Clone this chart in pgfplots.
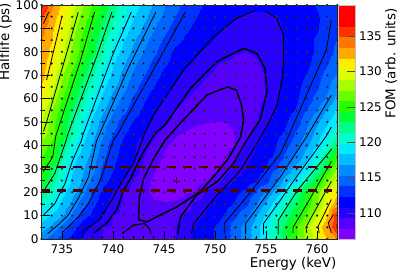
\documentclass[border=0pt]{standalone}
\usepackage{pgfplots}
\usepackage{pgfplotstable}
\usepackage{fontspec}
\setmainfont{DejaVu Sans}
\pgfplotsset{compat=1.18}
\pgfplotstableread[row sep=\\]{
E T Z\\
733 0 116\\734 0 114.5\\735 0 113\\736 0 111.8\\737 0 110.7\\738 0 109.6\\739 0 109.1\\740 0 108.7\\741 0 108.2\\742 0 107.8\\743 0 107.8\\744 0 108.4\\745 0 108.8\\746 0 109.2\\747 0 110\\748 0 111.2\\749 0 111.9\\750 0 112.4\\751 0 113.1\\752 0 114.6\\753 0 116\\754 0 117.7\\755 0 119.6\\756 0 121.6\\757 0 123.6\\758 0 125.7\\759 0 128\\760 0 129.5\\761 0 132\\762 0 133.5\\
733 5 117.6\\734 5 116.4\\735 5 114.8\\736 5 112.9\\737 5 111.5\\738 5 110.5\\739 5 109.3\\740 5 109\\741 5 108.6\\742 5 108.2\\743 5 108.2\\744 5 108.3\\745 5 108.8\\746 5 109.2\\747 5 110\\748 5 111\\749 5 111.8\\750 5 112.4\\751 5 113.1\\752 5 114.6\\753 5 116\\754 5 117.7\\755 5 119.5\\756 5 121.4\\757 5 123.5\\758 5 125.8\\759 5 128.3\\760 5 130.8\\761 5 133.3\\762 5 137\\
733 10 119.3\\734 10 118\\735 10 117\\736 10 115.1\\737 10 112.9\\738 10 111.8\\739 10 110.9\\740 10 109.3\\741 10 109\\742 10 108.5\\743 10 108.2\\744 10 108.1\\745 10 108.3\\746 10 108.9\\747 10 109.6\\748 10 110.3\\749 10 111\\750 10 111.7\\751 10 112.5\\752 10 113.6\\753 10 115\\754 10 116.8\\755 10 118.8\\756 10 120.5\\757 10 122.2\\758 10 124.2\\759 10 126.5\\760 10 129\\761 10 131.8\\762 10 136.5\\
733 15 120.4\\734 15 119.5\\735 15 117.9\\736 15 116.4\\737 15 114.4\\738 15 112.6\\739 15 111.4\\740 15 109.9\\741 15 109.1\\742 15 108.5\\743 15 108.1\\744 15 107.95\\745 15 107.9\\746 15 108\\747 15 108.3\\748 15 109.7\\749 15 110.4\\750 15 111.1\\751 15 111.8\\752 15 112.5\\753 15 113.5\\754 15 115.3\\755 15 117.2\\756 15 119.2\\757 15 121.2\\758 15 123.1\\759 15 125\\760 15 127.3\\761 15 130.3\\762 15 133\\
733 20 122.4\\734 20 120.6\\735 20 118.9\\736 20 117.4\\737 20 116\\738 20 113.4\\739 20 111.9\\740 20 110.8\\741 20 109.3\\742 20 108.6\\743 20 108\\744 20 107.6\\745 20 107.3\\746 20 107.3\\747 20 107.5\\748 20 107.9\\749 20 109.4\\750 20 110.4\\751 20 111.4\\752 20 112\\753 20 112.7\\754 20 114\\755 20 115.7\\756 20 117.4\\757 20 119.3\\758 20 122\\759 20 124.6\\760 20 126.8\\761 20 129.3\\762 20 131.5\\
733 25 124.3\\734 25 122\\735 25 119.9\\736 25 118.1\\737 25 116.7\\738 25 114.9\\739 25 112.8\\740 25 111.8\\741 25 110.7\\742 25 109.1\\743 25 108.1\\744 25 107.6\\745 25 107.2\\746 25 106.9\\747 25 106.8\\748 25 107\\749 25 107.7\\750 25 108.6\\751 25 110\\752 25 111.1\\753 25 111.6\\754 25 112.3\\755 25 113.2\\756 25 115.4\\757 25 117.7\\758 25 119.2\\759 25 121.5\\760 25 124.2\\761 25 127\\762 25 129.8\\
733 30 125.6\\734 30 123\\735 30 120.5\\736 30 118.5\\737 30 117.1\\738 30 115.6\\739 30 113.4\\740 30 112.4\\741 30 111.5\\742 30 110.2\\743 30 108.7\\744 30 107.9\\745 30 107.4\\746 30 107\\747 30 106.8\\748 30 106.7\\749 30 106.9\\750 30 107.6\\751 30 108.8\\752 30 110\\753 30 111\\754 30 111.7\\755 30 112.4\\756 30 114\\757 30 115.8\\758 30 117.5\\759 30 119.2\\760 30 121.4\\761 30 124.9\\762 30 127.5\\
733 35 126\\734 35 125\\735 35 121.6\\736 35 119\\737 35 117.6\\738 35 116.2\\739 35 114.1\\740 35 112.6\\741 35 111.9\\742 35 111\\743 35 109.3\\744 35 108.3\\745 35 107.7\\746 35 107.2\\747 35 106.9\\748 35 106.7\\749 35 106.6\\750 35 106.7\\751 35 107.6\\752 35 109\\753 35 110.4\\754 35 111.2\\755 35 111.9\\756 35 112.6\\757 35 114.3\\758 35 116\\759 35 117.8\\760 35 120\\761 35 122.5\\762 35 125.6\\
733 40 126.5\\734 40 125.4\\735 40 122.6\\736 40 120.3\\737 40 118.5\\738 40 116.6\\739 40 114.7\\740 40 112.9\\741 40 112\\742 40 111.2\\743 40 109.8\\744 40 108.9\\745 40 108\\746 40 107.5\\747 40 107.1\\748 40 106.9\\749 40 106.8\\750 40 106.9\\751 40 107.2\\752 40 107.9\\753 40 109.7\\754 40 110.8\\755 40 111.6\\756 40 112.3\\757 40 113.4\\758 40 114.9\\759 40 116.6\\760 40 118.3\\761 40 120.4\\762 40 122.8\\
733 45 128.3\\734 45 126.4\\735 45 124\\736 45 121.3\\737 45 119.2\\738 45 117.3\\739 45 115.5\\740 45 113.8\\741 45 112.5\\742 45 111.7\\743 45 110.9\\744 45 109.6\\745 45 108.7\\746 45 108\\747 45 107.7\\748 45 107.4\\749 45 107.2\\750 45 107.1\\751 45 107.2\\752 45 107.8\\753 45 108.8\\754 45 110\\755 45 111.4\\756 45 112\\757 45 112.6\\758 45 114.2\\759 45 115.8\\760 45 117.5\\761 45 119.2\\762 45 121\\
733 50 129.2\\734 50 126.6\\735 50 124.1\\736 50 121.8\\737 50 119.8\\738 50 117.9\\739 50 116\\740 50 114.6\\741 50 113.1\\742 50 112.2\\743 50 111.4\\744 50 110.5\\745 50 109.6\\746 50 108.9\\747 50 108.3\\748 50 108\\749 50 107.9\\750 50 107.8\\751 50 107.8\\752 50 108\\753 50 108.6\\754 50 109.2\\755 50 110.5\\756 50 111.4\\757 50 112.2\\758 50 113.2\\759 50 115\\760 50 116.6\\761 50 118.1\\762 50 119.6\\
733 55 129.6\\734 55 127.3\\735 55 125\\736 55 122.7\\737 55 120.9\\738 55 118.8\\739 55 117.1\\740 55 115.5\\741 55 114.3\\742 55 113\\743 55 112\\744 55 111.1\\745 55 110.3\\746 55 109.4\\747 55 108.8\\748 55 108.4\\749 55 108.2\\750 55 108.1\\751 55 108.1\\752 55 108.2\\753 55 108.6\\754 55 109\\755 55 109.8\\756 55 111\\757 55 111.8\\758 55 112.5\\759 55 114\\760 55 115.4\\761 55 117\\762 55 118.6\\
733 60 131\\734 60 128.3\\735 60 125.9\\736 60 123.7\\737 60 121.6\\738 60 119.6\\739 60 117.8\\740 60 116.2\\741 60 114.9\\742 60 113.6\\743 60 112.5\\744 60 111.6\\745 60 110.8\\746 60 110\\747 60 109.4\\748 60 108.9\\749 60 108.6\\750 60 108.4\\751 60 108.3\\752 60 108.4\\753 60 108.7\\754 60 109\\755 60 109.4\\756 60 110.6\\757 60 111.5\\758 60 112.2\\759 60 113\\760 60 114.4\\761 60 115.6\\762 60 117.2\\
733 65 131.8\\734 65 129.3\\735 65 126.9\\736 65 124.6\\737 65 122.4\\738 65 120.5\\739 65 118.7\\740 65 117.1\\741 65 115.9\\742 65 114.4\\743 65 113.1\\744 65 112.3\\745 65 111.5\\746 65 110.7\\747 65 110\\748 65 109.4\\749 65 109\\750 65 108.8\\751 65 108.6\\752 65 108.5\\753 65 108.6\\754 65 108.9\\755 65 109.4\\756 65 110.4\\757 65 111.6\\758 65 112.1\\759 65 112.7\\760 65 113.6\\761 65 115\\762 65 116.4\\
733 70 132.7\\734 70 130\\735 70 127.6\\736 70 125.4\\737 70 123.4\\738 70 121.4\\739 70 119.4\\740 70 117.9\\741 70 116.4\\742 70 115.1\\743 70 113.9\\744 70 112.8\\745 70 112\\746 70 111.3\\747 70 110.6\\748 70 109.9\\749 70 109.4\\750 70 109.1\\751 70 108.9\\752 70 108.8\\753 70 108.8\\754 70 109\\755 70 109.4\\756 70 110.3\\757 70 111.3\\758 70 111.9\\759 70 112.4\\760 70 113.2\\761 70 114.4\\762 70 115.5\\
733 75 133\\734 75 130.8\\735 75 128.4\\736 75 126.4\\737 75 124.3\\738 75 122\\739 75 120.1\\740 75 118.4\\741 75 117\\742 75 115.7\\743 75 114.5\\744 75 113.3\\745 75 112.5\\746 75 111.9\\747 75 111.1\\748 75 110.6\\749 75 110\\750 75 109.4\\751 75 109.1\\752 75 109\\753 75 109\\754 75 109.2\\755 75 109.6\\756 75 110.3\\757 75 111\\758 75 111.6\\759 75 112.1\\760 75 112.7\\761 75 113.7\\762 75 114.8\\
733 80 133.3\\734 80 131.3\\735 80 129.3\\736 80 127.1\\737 80 125.2\\738 80 123.4\\739 80 121.2\\740 80 119.2\\741 80 117.8\\742 80 116.4\\743 80 115.2\\744 80 114.1\\745 80 112.9\\746 80 112.1\\747 80 111.7\\748 80 111.1\\749 80 110.6\\750 80 110.2\\751 80 109.8\\752 80 109.4\\753 80 109.3\\754 80 109.4\\755 80 109.8\\756 80 110.3\\757 80 111\\758 80 111.6\\759 80 112\\760 80 112.5\\761 80 113.2\\762 80 114.2\\
733 85 133.5\\734 85 131.9\\735 85 129.7\\736 85 127.6\\737 85 125.4\\738 85 123.6\\739 85 121.8\\740 85 120.1\\741 85 118.5\\742 85 117.1\\743 85 115.8\\744 85 114.7\\745 85 113.6\\746 85 112.7\\747 85 112.2\\748 85 111.7\\749 85 111.2\\750 85 110.7\\751 85 110.3\\752 85 110\\753 85 109.8\\754 85 109.8\\755 85 110\\756 85 110.4\\757 85 111\\758 85 111.6\\759 85 112\\760 85 112.5\\761 85 113.1\\762 85 113.9\\
733 90 134\\734 90 132.2\\735 90 130.4\\736 90 128.2\\737 90 126.2\\738 90 124.3\\739 90 122.5\\740 90 120.9\\741 90 119.3\\742 90 117.9\\743 90 116.5\\744 90 115.4\\745 90 114.3\\746 90 113.3\\747 90 112.6\\748 90 112.1\\749 90 111.6\\750 90 111.2\\751 90 110.8\\752 90 110.4\\753 90 110.2\\754 90 110.1\\755 90 110.2\\756 90 110.5\\757 90 111\\758 90 111.4\\759 90 111.8\\760 90 112.2\\761 90 112.8\\762 90 113.5\\
733 95 135.3\\734 95 132.6\\735 95 131\\736 95 128.9\\737 95 126.9\\738 95 125\\739 95 123.2\\740 95 121.5\\741 95 120\\742 95 118.5\\743 95 117.2\\744 95 116\\745 95 115\\746 95 113.9\\747 95 112.9\\748 95 112.4\\749 95 111.9\\750 95 111.5\\751 95 111.2\\752 95 110.9\\753 95 110.6\\754 95 110.5\\755 95 110.5\\756 95 110.7\\757 95 111.2\\758 95 111.6\\759 95 111.9\\760 95 112.2\\761 95 112.7\\762 95 113.3\\
733 100 137\\734 100 133.6\\735 100 131.4\\736 100 129.5\\737 100 127.6\\738 100 125.7\\739 100 123.9\\740 100 122.2\\741 100 120.6\\742 100 119.1\\743 100 117.8\\744 100 116.6\\745 100 115.5\\746 100 114.5\\747 100 113.4\\748 100 112.7\\749 100 112.2\\750 100 111.8\\751 100 111.5\\752 100 111.3\\753 100 111.2\\754 100 111.2\\755 100 111.3\\756 100 111.4\\757 100 111.6\\758 100 111.8\\759 100 112.1\\760 100 112.4\\761 100 112.7\\762 100 113\\
}\gridtable
\pgfplotsset{
  colormap={rootbands}{
    rgb255=(130,0,255) rgb255=(85,0,255) rgb255=(40,0,255) rgb255=(0,0,255)
    rgb255=(0,50,255) rgb255=(0,100,255) rgb255=(0,140,255) rgb255=(0,190,255)
    rgb255=(0,235,255) rgb255=(0,255,204) rgb255=(0,255,136) rgb255=(0,255,51)
    rgb255=(34,255,0) rgb255=(102,255,0) rgb255=(170,255,0) rgb255=(221,255,0)
    rgb255=(255,238,0) rgb255=(255,170,0) rgb255=(255,119,0) rgb255=(255,51,0)
    rgb255=(255,0,0) rgb255=(255,0,0)
  },
}
\begin{document}
\begin{tikzpicture}
\useasboundingbox (-41.5bp,-33bp) rectangle (356.5bp,239bp);
\begin{axis}[
  at={(0,0)}, anchor=south west,
  scale only axis, width=296bp, height=234bp,
  xmin=733, xmax=762, ymin=0, ymax=100,
  axis on top,
  xtick={735,740,745,750,755,760}, minor x tick num=4,
  ytick={0,10,...,100}, minor y tick num=1,
  tick align=inside, tick pos=left,
  x tick style={line width=0.6bp,black}, y tick style={line width=0.6bp,black},
  axis line style={line width=0.6bp,black!85},
  major tick length=8bp, minor tick length=3.5bp,
  tick label style={font=\fontsize{12}{14}\selectfont},
  /pgf/number format/assume math mode=true,
  xticklabel style={yshift=-2.5bp},
  yticklabel style={xshift=0.5bp},
  every axis y label/.style={at={(axis description cs:-0.122,0.842)},rotate=90,anchor=center,font=\fontsize{13.5}{15}\selectfont},
  every axis x label/.style={at={(axis description cs:0.85,-0.107)},anchor=center,font=\fontsize{13.5}{15}\selectfont},
  xlabel={Energy (keV)}, ylabel={Halflife (ps)},
  colormap name=rootbands,
  colormap access=piecewise constant,
  point meta min=106.3, point meta max=139.4,
  colorbar,
  colorbar style={
    at={(parent axis.south east)}, anchor=south west, xshift=-7.5bp,
    width=17bp, height=234bp,
    ytick={110,115,120,125,130,135},
    yticklabel pos=right, ytick pos=right,
    ytick align=inside, major tick length=9bp,
    y tick style={line width=0.5bp,black!70},
    axis line style={line width=0.4bp,black!25},
    tick label style={font=\fontsize{12}{14}\selectfont},
    /pgf/number format/assume math mode=true,
    every axis y label/.style={at={(axis description cs:3.09,0.75)},rotate=90,anchor=center,font=\fontsize{13.5}{15}\selectfont},
    ylabel={FOM (arb. units)},
  },
]
\addplot[surf, shader=interp, mesh/cols=30, mesh/ordering=x varies, point meta=explicit, forget plot]
  table[x=E,y=T,meta=Z] {\gridtable};
\addplot[only marks, mark=*, mark size=1.05bp, point meta=none, mark options={fill=black,draw=black!70,line width=0.2bp}, forget plot]
  table[x=E,y=T] {\gridtable};
% contours
\pgfplotsset{cl/.style={black,line width=#1,line join=round,no marks,forget plot}}
\addplot[cl=1.5bp] coordinates {(743.3,7.3)(742.5,8.3)(742.6,18)(743,25.8)(744,34.4)(745.1,42.2)(746.7,50)(749.2,61.5)(751.2,65)(752.1,63.6)(752.6,57.2)(752.8,50.8)(752.5,43.6)(751.3,34.4)(750,27.3)(748.5,20.1)(746.25,13.7)(743.3,7.3)};
\addplot[cl=1.2bp] coordinates {(740.9,2.3)(742,5.9)(743.1,6.6)(743.6,4.4)(743.7,2.3)};
\addplot[cl=1.4bp] coordinates {(738.15,2.6)(739.4,6.9)(740.4,12.6)(741,20.4)(741.8,26.5)(742.8,35.8)(744.1,45)(745.1,48.7)(747.6,64.4)(750.2,75.8)(752.8,81.5)(754.1,79.3)(754.9,72.9)(755.1,62.9)(754.4,50.8)(753.1,42.2)(751.8,32.3)(750.2,24.4)(748.2,18.7)(746.6,9.4)(746.35,2.3)};
\addplot[cl=1bp] coordinates {(736.87,2.6)(738.7,8.3)(739.9,16.9)(741,25.4)(742,32.3)(743.1,45)(743.96,52.9)(746.9,72.2)(749.84,86.4)(752.1,94.3)(753.9,97.6)};
\addplot[cl=1bp] coordinates {(754.9,97.6)(756.06,94.3)(756.7,87.2)(756.7,75.8)(756.55,67.2)(756.06,57.2)(755.4,50.8)(754.1,40.8)(752.5,29.4)(750.2,18.7)(747.9,6.6)(747.7,2.3)};
\addplot[cl=0.8bp] coordinates {(735,2.6)(736.6,9.4)(737.6,15.1)(738.9,26.5)(740,42)(740.5,45)(741.2,50.8)(744.3,75)(747.1,97)};
\addplot[cl=0.8bp] coordinates {(750.9,2.3)(750.9,6.6)(753.1,18)(756.4,36.5)(757.3,45)(759.6,67.9)(760.9,80.7)(761.4,93.6)};
\addplot[cl=0.8bp] coordinates {(733.6,2.3)(734.6,5.9)(735.6,10.1)(736.6,17.3)(737.6,26.5)(738.4,42)(738.7,45)(741.5,73)(744.2,97)};
\addplot[cl=0.8bp] coordinates {(753,2)(753,6.6)(755.4,20.8)(756.4,26.5)(759,43.9)(761.4,61.5)};
\addplot[cl=0.8bp] coordinates {(733.15,10)(734.3,15.1)(735.3,23.7)(736,33)(736.9,42)(737.1,45)(740,79)(741.8,97)};
\addplot[cl=0.8bp] coordinates {(754.75,2)(754.75,6.6)(756.4,16.6)(757.4,23)(760.9,44)(761.4,47.9)};
\addplot[cl=0.8bp] coordinates {(733.15,20)(734.3,28)(735.4,42)(735.6,45)(738.4,78)(739.9,97)};
\addplot[cl=0.8bp] coordinates {(756.2,2)(756.2,8)(758.1,21)(761.45,38.5)};
\addplot[cl=0.8bp] coordinates {(733.15,28.7)(734.1,35)(734.4,44)(736.8,76)(738.2,97)};
\addplot[cl=0.8bp] coordinates {(757.65,2.5)(757.65,5)(759.45,18.3)(761.4,33.2)};
\addplot[cl=0.8bp] coordinates {(733.2,46)(733.5,50)(735.5,80)(736.6,97)};
\addplot[cl=0.8bp] coordinates {(759,2.5)(758.9,5)(761.4,24.7)};
\addplot[cl=0.8bp] coordinates {(733.5,68)(735,95)};
\addplot[cl=0.8bp] coordinates {(760.2,2.5)(760.1,5.4)(761.4,16.9)};
\addplot[cl=0.8bp] coordinates {(733.2,92)(733.7,97)};
\addplot[cl=0.8bp] coordinates {(761.4,2.6)(761.1,6.9)(761.6,10.4)};
% dashed limits
\addplot[forget plot,no marks,color={rgb,255:red,80;green,0;blue,0},line width=2.4bp,dash pattern=on 9bp off 6.7bp] coordinates {(733,30.7)(761.5,30.7)};
\addplot[forget plot,no marks,color={rgb,255:red,80;green,0;blue,0},line width=2.4bp,dash pattern=on 9bp off 6.7bp] coordinates {(733,20.8)(761.5,20.8)};
\addplot[forget plot,only marks,mark=+,mark size=3.5bp,mark options={line width=0.9bp,color={rgb,255:red,70;green,0;blue,40}}] coordinates {(746.2,24.8)};
\end{axis}
\end{tikzpicture}
\end{document}
